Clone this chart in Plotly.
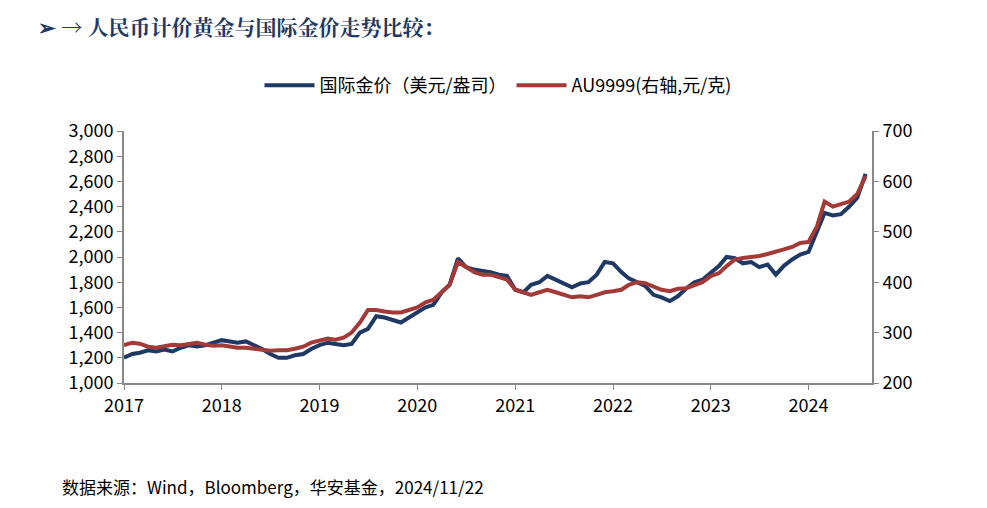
import pandas as pd
import plotly.graph_objects as go

gold = [1200,1230,1240,1260,1250,1265,1250,1280,1300,1290,1300,1320,
        1340,1330,1320,1330,1300,1270,1230,1200,1200,1220,1230,1270,
        1300,1320,1310,1300,1310,1400,1430,1530,1520,1500,1480,1520,
        1560,1600,1620,1720,1780,1990,1920,1900,1890,1880,1860,1850,
        1740,1720,1780,1800,1850,1820,1790,1760,1790,1800,1860,1960,
        1950,1880,1830,1800,1770,1700,1680,1650,1690,1750,1800,1820,
        1880,1930,2000,1990,1950,1960,1920,1940,1860,1930,1980,2020,
        2040,2200,2350,2330,2340,2400,2470,2660]
au = [275,280,278,272,270,274,276,275,277,280,276,274,
      275,272,270,270,268,266,264,265,265,268,272,280,
      284,288,286,290,300,320,345,345,342,340,340,345,
      350,360,365,380,395,440,430,420,415,415,410,405,
      385,380,375,380,385,380,375,370,372,370,375,380,
      382,385,395,400,398,392,385,382,387,388,395,400,
      412,418,432,445,448,450,452,456,460,465,470,478,
      480,510,560,550,555,560,575,610]
dates = pd.date_range("2017-01-01", periods=len(gold), freq="MS")
years = ["2017","2018","2019","2020","2021","2022","2023","2024"]

fig = go.Figure()
fig.add_trace(go.Scatter(x=dates, y=gold, name="国际金价（美元/盎司）", mode="lines",
                         line=dict(color="#1F3864", width=4)))
fig.add_trace(go.Scatter(x=dates, y=au, name="AU9999(右轴,元/克)", mode="lines", yaxis="y2",
                         line=dict(color="#A33A37", width=4)))
font = "Noto Sans CJK SC"
ax = dict(showline=True, linecolor="#888", linewidth=2, ticks="outside", tickcolor="#888",
          ticklen=5, showgrid=False, zeroline=False, automargin=False,
          tickfont=dict(size=18, color="#000", family=font))
fig.update_layout(
    width=987, height=508, plot_bgcolor="white", paper_bgcolor="white",
    margin=dict(l=116, r=123, t=123, b=133, autoexpand=False),
    font=dict(family=font, color="#000"),
    xaxis=dict(**ax, range=["2017-01-01", "2024-08-25"], tickvals=[y + "-01-01" for y in years],
               ticktext=years),
    yaxis=dict(**ax, range=[1000, 3000], dtick=200, tickformat=",d"),
    yaxis2=dict(**ax, range=[200, 700], dtick=100, overlaying="y", side="right"),
    legend=dict(orientation="h", x=0.5, xanchor="center", y=1.18, yanchor="middle",
                font=dict(size=18, family=font), itemwidth=50),
    showlegend=True,
)
fig.add_annotation(text="<b>➢ → 人民币计价黄金与国际金价走势比较：</b>", xref="paper", yref="paper",
                   x=-0.118, y=1.417, xanchor="left", yanchor="middle", showarrow=False,
                   font=dict(size=21, color="#1F3864", family="Noto Serif CJK SC, " + font))
fig.add_annotation(text="数据来源：Wind，Bloomberg，华安基金，2024/11/22", xref="paper", yref="paper",
                   x=-0.086, y=-0.41, xanchor="left", yanchor="middle", showarrow=False,
                   font=dict(size=17, family=font))
fig.write_html("out.html")
